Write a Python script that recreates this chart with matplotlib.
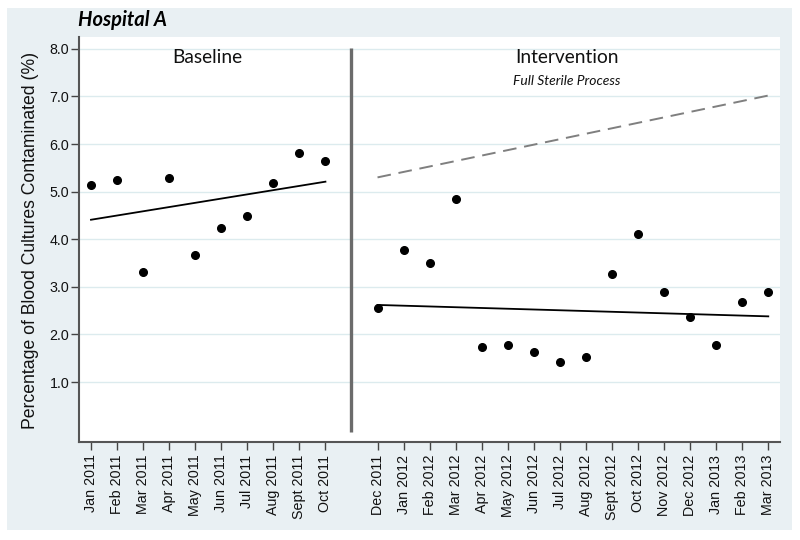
import matplotlib
matplotlib.use('Agg')
import matplotlib.pyplot as plt
from matplotlib.patches import Rectangle
import numpy as np

# months on a continuous index; Nov 2011 (index 10) is the break between phases
month_labels = ['Jan 2011', 'Feb 2011', 'Mar 2011', 'Apr 2011', 'May 2011', 'Jun 2011',
                'Jul 2011', 'Aug 2011', 'Sept 2011', 'Oct 2011',
                'Dec 2011', 'Jan 2012', 'Feb 2012', 'Mar 2012', 'Apr 2012', 'May 2012',
                'Jun 2012', 'Jul 2012', 'Aug 2012', 'Sept 2012', 'Oct 2012', 'Nov 2012',
                'Dec 2012', 'Jan 2013', 'Feb 2013', 'Mar 2013']
baseline_idx = list(range(0, 10))
intervention_idx = list(range(11, 27))
break_idx = 10

baseline_vals = [5.13, 5.25, 3.31, 5.29, 3.66, 4.24, 4.48, 5.19, 5.81, 5.64]
intervention_vals = [2.56, 3.77, 3.50, 4.84, 1.74, 1.78, 1.64, 1.43, 1.53, 3.27,
                     4.11, 2.89, 2.37, 1.78, 2.68, 2.89]

# trend line end values (first month, last month)
baseline_trend = [4.41, 5.21]
intervention_trend = [2.62, 2.38]
projected_trend = [5.30, 7.02]

yticks = [1.0, 2.0, 3.0, 4.0, 5.0, 6.0, 7.0, 8.0]

tick_font = 'Liberation Sans'
title_font = 'Lato'

fig = plt.figure(figsize=(8, 5.4), dpi=100)
fig.patch.set_facecolor('white')
panel = Rectangle((7 / 800, 1 - 530 / 540), 785 / 800, 522 / 540,
                  transform=fig.transFigure, facecolor='#e9f0f3',
                  edgecolor='none', zorder=-10)
fig.patches.append(panel)

ax = fig.add_axes([79 / 800, 1 - 442 / 540, 701 / 800, 405 / 540])
ax.set_zorder(1)
ax.set_facecolor('white')
ax.set_xlim(-0.46, 26.45)
ax.set_ylim(-0.26, 8.25)

for y in yticks:
    ax.axhline(y, color='#dcebee', lw=1, zorder=1)

ax.vlines(break_idx, -0.05, 8.02, color='#6b6b6b', lw=2.4, zorder=3)

ax.plot([baseline_idx[0], baseline_idx[-1]], baseline_trend, color='black', lw=1.3, zorder=4)
ax.plot([intervention_idx[0], intervention_idx[-1]], intervention_trend, color='black', lw=1.3, zorder=4)
ax.plot([intervention_idx[0], intervention_idx[-1]], projected_trend, color='#7f7f7f',
        lw=1.4, dashes=(7, 4), zorder=4)

ax.plot(baseline_idx, baseline_vals, 'o', color='black', ms=5.5, zorder=5)
ax.plot(intervention_idx, intervention_vals, 'o', color='black', ms=5.5, zorder=5)

ax.set_yticks(yticks)
ax.set_yticklabels([f'{v:.1f}' for v in yticks], fontfamily=tick_font, fontsize=10.3)
ax.set_xticks(baseline_idx + intervention_idx)
ax.set_xticklabels(month_labels, rotation=90, fontfamily=tick_font, fontsize=10.3)
ax.tick_params(axis='both', colors='#444444', labelcolor='#111111', length=5.5, width=1)
ax.tick_params(axis='x', pad=3.5)
ax.tick_params(axis='y', pad=1.5)

for side in ['top', 'right']:
    ax.spines[side].set_visible(False)
for side in ['left', 'bottom']:
    ax.spines[side].set_color('#555555')
    ax.spines[side].set_linewidth(1.5)

ax.text(4.45, 7.81, 'Baseline', ha='center', va='center', fontsize=13.8,
        fontfamily=title_font, color='#111111')
ax.text(18.27, 7.81, 'Intervention', ha='center', va='center', fontsize=13.8,
        fontfamily=title_font, color='#111111')
ax.text(18.27, 7.33, 'Full Sterile Process', ha='center', va='center', fontsize=10,
        fontstyle='italic', fontfamily=title_font, color='#111111')

fig.text(78 / 800, 1 - 20 / 540, 'Hospital A', ha='left', va='center', fontsize=14.5,
         fontweight='bold', fontstyle='italic', fontfamily=title_font)
fig.text(31 / 800, 1 - 240 / 540, 'Percentage of Blood Cultures Contaminated (%)',
         rotation=90, ha='center', va='center', fontsize=12.7, fontfamily=tick_font,
         color='#111111')

fig.savefig('out.png', dpi=100, facecolor=fig.get_facecolor())
